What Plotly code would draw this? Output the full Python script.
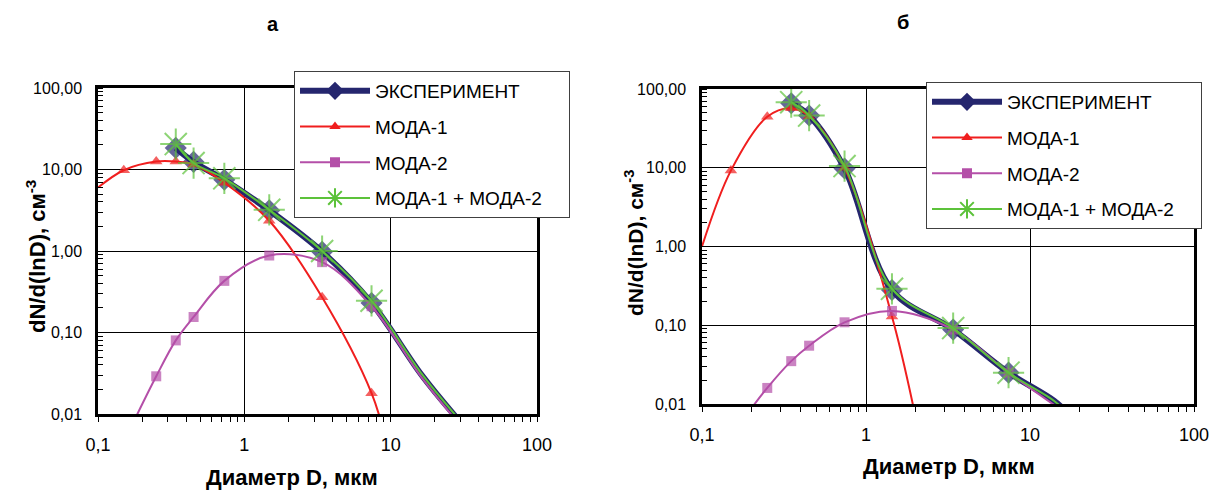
import plotly.graph_objects as go

# ---------------- data ----------------
SERIES_NAMES = ["ЭКСПЕРИМЕНТ", "МОДА-1", "МОДА-2", "МОДА-1 + МОДА-2"]
PANEL_TITLES = ["а", "б"]
X_TICK_VALS = [0.1, 1, 10, 100]
X_TICK_TEXT = ["0,1", "1", "10", "100"]
Y_TICK_VALS = [0.01, 0.1, 1, 10, 100]
Y_TICK_TEXT = ["0,01", "0,10", "1,00", "10,00", "100,00"]
X_TITLE = "Диаметр D, мкм"
Y_TITLE = "dN/d(lnD), см<sup>-3</sup>"

# panel а
D_MEAS_A = [0.15, 0.25, 0.34, 0.45, 0.73, 1.48, 3.4, 7.4]
EXP_A_D = [0.34, 0.45, 0.73, 1.48, 3.4, 7.4, 16.3, 30]
EXP_A_N = [18.4, 12.4, 7.5, 3.15, 0.98, 0.23, 0.030, 0.0079]
M1_A_D = [0.1, 0.15, 0.25, 0.34, 0.45, 0.73, 1.48, 3.4, 7.4, 9.5]
M1_A_N = [6.0, 9.8, 12.5, 12.5, 11.5, 6.9, 2.35, 0.27, 0.018, 0.004]
M2_A_D = [0.17, 0.25, 0.34, 0.45, 0.73, 1.48, 3.4, 7.4, 16.3, 30]
M2_A_N = [0.0072, 0.029, 0.08, 0.155, 0.43, 0.88, 0.73, 0.21, 0.028, 0.0072]
SUM_A_D = [0.34, 0.45, 0.73, 1.48, 3.4, 7.4, 16.3, 30]
SUM_A_N = [20.5, 12.0, 7.8, 3.2, 1.0, 0.245, 0.031, 0.0082]

# panel б
D_MEAS_B = [0.15, 0.25, 0.35, 0.45, 0.74, 1.44, 3.4, 7.4]
EXP_B_D = [0.35, 0.45, 0.74, 1.44, 3.4, 7.4, 14, 18]
EXP_B_N = [66, 46, 9.8, 0.28, 0.088, 0.025, 0.011, 0.0068]
M1_B_D = [0.1, 0.15, 0.25, 0.35, 0.45, 0.74, 1.44, 2.0]
M1_B_N = [1.0, 9.2, 44.5, 57, 45, 10, 0.129, 0.007]
M2_B_D = [0.186, 0.25, 0.35, 0.45, 0.74, 1.44, 3.4, 7.4, 18]
M2_B_N = [0.0072, 0.016, 0.035, 0.055, 0.109, 0.152, 0.088, 0.025, 0.0068]
SUM_B_D = [0.35, 0.45, 0.74, 1.44, 3.4, 7.4, 14, 18]
SUM_B_N = [68, 46, 10.5, 0.29, 0.092, 0.025, 0.011, 0.0068]

# ---------------- styling ----------------
W, H = 1211, 490
FONT = "Liberation Sans, Arial, sans-serif"
STYLES = [
    dict(color="#25266E", width=6, symbol="diamond", size=17, lw=0),
    dict(color="#F01E1E", width=2, symbol="triangle-up", size=11, lw=0),
    dict(color="#B44FA8", width=2, symbol="square", size=10, lw=0),
    dict(color="#5CC23A", width=2, symbol="asterisk-open", size=26, lw=2),
]
PAD = "\u00a0" * 4  # right padding inside the legend box


def fx(px):
    return px / W


def fy(py):
    return 1 - py / H


# plot-area boxes in pixels: (left, right, top, bottom)
BOXES = [(98, 537, 88, 414), (702, 1194, 89, 404)]

fig = go.Figure()

panels = [
    (D_MEAS_A, [(EXP_A_D, EXP_A_N), (M1_A_D, M1_A_N), (M2_A_D, M2_A_N), (SUM_A_D, SUM_A_N)]),
    (D_MEAS_B, [(EXP_B_D, EXP_B_N), (M1_B_D, M1_B_N), (M2_B_D, M2_B_N), (SUM_B_D, SUM_B_N)]),
]

for p, (meas, series) in enumerate(panels):
    xa = "x" if p == 0 else "x2"
    ya = "y" if p == 0 else "y2"
    leg = "legend" if p == 0 else "legend2"
    for s, (d, n) in enumerate(series):
        st = STYLES[s]
        sizes = [st["size"] if any(abs(v - m) < 1e-9 for m in meas) else 0 for v in d]
        fig.add_trace(go.Scatter(
            x=d, y=n, xaxis=xa, yaxis=ya, mode="lines+markers",
            line=dict(color=st["color"], width=st["width"], shape="spline", smoothing=1.0),
            marker=dict(symbol=st["symbol"], size=sizes, color=st["color"],
                        line=dict(color=st["color"], width=st["lw"])),
            showlegend=False, hoverinfo="skip"))
    # legend entries
    for s, name in enumerate(SERIES_NAMES):
        st = STYLES[s]
        fig.add_trace(go.Scatter(
            x=[None], y=[None], xaxis=xa, yaxis=ya, mode="lines+markers",
            name=name + (PAD if s == len(SERIES_NAMES) - 1 else ""),
            legend=leg, legendgroup=f"{p}-{s}",
            line=dict(color=st["color"], width=st["width"]),
            marker=dict(symbol=st["symbol"], size=14 if s == 0 else (16 if s == 3 else 10),
                        color=st["color"], line=dict(color=st["color"], width=st["lw"])),
        ))

axis_common = dict(
    type="log", showline=True, linecolor="black", linewidth=2.5, mirror=True,
    showgrid=True, gridcolor="black", gridwidth=1, zeroline=False, automargin=False,
    tickmode="array", ticks="outside", ticklen=5, tickcolor="black",
    tickfont=dict(family=FONT, size=18, color="black"),
)

layout = dict(
    width=W, height=H, margin=dict(l=0, r=0, t=0, b=0, pad=0, autoexpand=False),
    paper_bgcolor="white", plot_bgcolor="white",
    font=dict(family=FONT, color="black"),
)

for p, (l, r, t, b) in enumerate(BOXES):
    sx = "" if p == 0 else "2"
    layout[f"xaxis{sx}"] = dict(
        axis_common, domain=[fx(l), fx(r)], range=[-1, 2],
        tickvals=X_TICK_VALS, ticktext=X_TICK_TEXT, anchor=f"y{sx}",
        ticklabelstandoff=8,
        minor=dict(dtick="D1", ticks="outside", ticklen=5, tickcolor="black", showgrid=False),
    )
    layout[f"yaxis{sx}"] = dict(
        axis_common, domain=[fy(b), fy(t)], range=[-2, 2],
        tickvals=Y_TICK_VALS, ticktext=Y_TICK_TEXT, anchor=f"x{sx}",
        ticks="", ticklabelstandoff=10,
        tickfont=dict(family=FONT, size=16, color="black"),
        minor=dict(dtick="D1", ticks="inside", ticklen=5, tickcolor="black", showgrid=False),
    )

legend_common = dict(
    bgcolor="white", bordercolor="#404040", borderwidth=1,
    font=dict(family=FONT, size=19, color="black"),
    xanchor="left", yanchor="top", tracegroupgap=8, itemwidth=70,
    traceorder="grouped",
)
layout["legend"] = dict(legend_common, x=fx(294), y=fy(71))
layout["legend2"] = dict(legend_common, x=fx(926), y=fy(82))


def ann(text, px, py, size, angle=0):
    return dict(text=text, x=fx(px), y=fy(py), xref="paper", yref="paper",
                xanchor="center", yanchor="middle", showarrow=False,
                textangle=angle, font=dict(family=FONT, size=size, color="black"))


layout["annotations"] = [
    ann(f"<b>{PANEL_TITLES[0]}</b>", 273, 24, 20),
    ann(f"<b>{PANEL_TITLES[1]}</b>", 903, 22, 20),
    ann(f"<b>{X_TITLE}</b>", 292, 477, 22),
    ann(f"<b>{X_TITLE}</b>", 949, 466, 22),
    ann(f"<b>{Y_TITLE}</b>", 36, 257, 22, -90),
    ann(f"<b>{Y_TITLE}</b>", 634, 243, 21, -90),
]

fig.update_layout(**layout)
fig.write_html(
    "out.html",
    config={"displayModeBar": False},
    post_script="document.body.style.margin='0px';document.body.style.overflow='hidden';",
)
